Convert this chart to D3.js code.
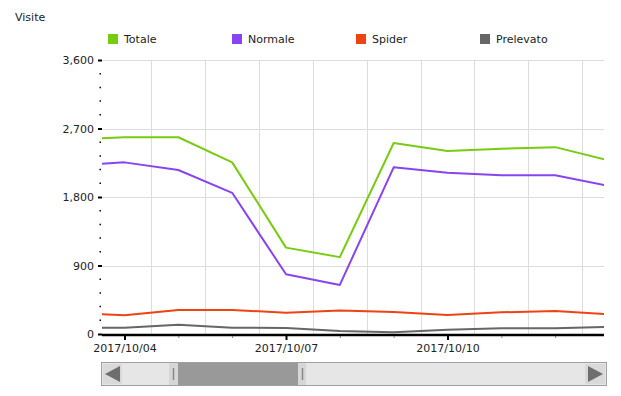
<!DOCTYPE html>
<html><head><meta charset="utf-8">
<script src="https://cdn.jsdelivr.net/npm/d3@7/dist/d3.min.js"></script>
<style>
html,body{margin:0;padding:0;background:#fff;}
svg{display:block;font-family:"DejaVu Sans",Verdana,sans-serif;}
</style></head><body>
<svg id="c" width="621" height="396"></svg>
<script>
// ---- data ----
const dates = ["2017-10-03","2017-10-04","2017-10-05","2017-10-06","2017-10-07","2017-10-08","2017-10-09","2017-10-10","2017-10-11","2017-10-12","2017-10-13"];
const totale    = [2550, 2585, 2585, 2255, 1135, 1010, 2510, 2405, 2435, 2455, 2280];
const normale   = [2210, 2255, 2155, 1855,  785,  645, 2190, 2120, 2085, 2085, 1945];
const spider    = [ 277,  246,  315,  315,  280,  309,  289,  250,  285,  302,  259];
const prelevato = [  83,   83,  122,   83,   79,   39,   22,   56,   75,   75,   95];
const seriesNames = ["Totale","Normale","Spider","Prelevato"];
const seriesColors = ["#77cc11","#8844ee","#ee4411","#666666"];
const yTicks = [0, 900, 1800, 2700, 3600];
const xTickDates = ["2017-10-04","2017-10-05","2017-10-06","2017-10-07","2017-10-08","2017-10-09","2017-10-10","2017-10-11","2017-10-12"];
const xTickLabels = {"2017-10-04":"2017/10/04","2017-10-07":"2017/10/07","2017-10-10":"2017/10/10"};
const yTitle = "Visite";

// ---- layout ----
const L = 102, R = 604, T = 60, B = 334;
const parse = d3.utcParse("%Y-%m-%d");
const svg = d3.select("#c");

const x = d3.scaleUtc().domain([parse("2017-10-04"), parse("2017-10-10")]).range([124.5, 447.5]);
const y = d3.scaleLinear().domain([0, 3600]).range([B, T]);

svg.append("defs").append("clipPath").attr("id","clip")
  .append("rect").attr("x",L).attr("y",T-5).attr("width",R-L).attr("height",B-T+5);

// grid
const g = svg.append("g");
g.selectAll("line.h").data(yTicks.filter(d=>d>0)).join("line")
  .attr("x1",L).attr("x2",R).attr("y1",d=>Math.round(y(d))+0.5).attr("y2",d=>Math.round(y(d))+0.5)
  .attr("stroke","#dddddd").attr("stroke-width",1);
const halfDays = d3.range(0, 10).map(i => new Date(parse("2017-10-03").getTime() + (i+0.5)*86400000));
g.selectAll("line.v").data(halfDays.filter(d=>x(d)>L && x(d)<R)).join("line")
  .attr("x1",d=>Math.round(x(d))+0.5).attr("x2",d=>Math.round(x(d))+0.5).attr("y1",T).attr("y2",B)
  .attr("stroke","#dddddd").attr("stroke-width",1);

// y axis
const yAxis = d3.axisLeft(y).tickValues(yTicks).tickFormat(d3.format(",")).tickSize(4).tickPadding(4);
const ya = svg.append("g").attr("transform",`translate(${L},0)`).call(yAxis);
ya.select(".domain").remove();
ya.selectAll(".tick line").attr("stroke","#000").attr("stroke-width",2);
ya.selectAll(".tick text").attr("font-size",11).attr("fill","#222").attr("font-family","DejaVu Sans, Verdana, sans-serif");
const minor = d3.range(180, 3600, 180).filter(v => v % 900 !== 0);
svg.append("g").selectAll("line").data(minor).join("line")
  .attr("x1",L-2.5).attr("x2",L-1).attr("y1",d=>y(d)).attr("y2",d=>y(d))
  .attr("stroke","#000").attr("stroke-width",1.5);

// lines
const allSeries = [totale, normale, spider, prelevato];
const line = d3.line().x((d,i)=>x(parse(dates[i]))).y(d=>y(d));
svg.append("g").attr("clip-path","url(#clip)").selectAll("path")
  .data(allSeries.map((s,i)=>({s,i})).reverse()).join("path")
  .attr("d",d=>line(d.s)).attr("fill","none")
  .attr("stroke",d=>seriesColors[d.i]).attr("stroke-width",2).attr("stroke-linejoin","round");

// x axis
svg.append("line").attr("x1",L).attr("x2",R).attr("y1",B+1).attr("y2",B+1).attr("stroke","#000").attr("stroke-width",2.5);
const xAxis = d3.axisBottom(x).tickValues(xTickDates.map(parse)).tickSize(0)
  .tickFormat(d => xTickLabels[d3.utcFormat("%Y-%m-%d")(d)] || "");
const xa = svg.append("g").attr("transform",`translate(0,${B+2})`).call(xAxis);
xa.select(".domain").remove();
xa.selectAll(".tick text").attr("font-size",11).attr("fill","#222").attr("dy","0.71em").attr("y",8)
  .attr("font-family","DejaVu Sans, Verdana, sans-serif");
xa.selectAll(".tick").each(function(d){
  const major = !!xTickLabels[d3.utcFormat("%Y-%m-%d")(d)];
  d3.select(this).select("line").remove();
  d3.select(this).append("line").attr("x1",0).attr("x2",0).attr("y1",0).attr("y2",major?4:2)
    .attr("stroke",major?"#000":"#777").attr("stroke-width",major?2:1);
});

// title
svg.append("text").attr("x",15).attr("y",21).attr("font-size",11).attr("fill","#222").text(yTitle);

// legend
const lg = svg.append("g").selectAll("g").data(seriesNames).join("g")
  .attr("transform",(d,i)=>`translate(${108+i*124},34)`);
lg.append("rect").attr("width",10).attr("height",10).attr("fill",(d,i)=>seriesColors[i]);
lg.append("text").attr("x",16).attr("y",9).attr("font-size",11).attr("fill","#222").text(d=>d);

// scrollbar
const sb = svg.append("g");
sb.append("rect").attr("x",101.5).attr("y",362.5).attr("width",505).attr("height",23).attr("fill","#e6e6e6").attr("stroke","#a0a0a0");
sb.append("rect").attr("x",103).attr("y",364).attr("width",19).attr("height",20).attr("fill","#d9d9d9");
sb.append("path").attr("d","M105,374 L120,366 L120,382 Z").attr("fill","#6e6e6e");
sb.append("rect").attr("x",585).attr("y",364).attr("width",20).attr("height",20).attr("fill","#d9d9d9");
sb.append("path").attr("d","M603,374 L588,366 L588,382 Z").attr("fill","#6e6e6e");
sb.append("rect").attr("x",169).attr("y",363).attr("width",137).attr("height",22).attr("fill","#d6d6d6");
sb.append("rect").attr("x",178).attr("y",363).attr("width",120).attr("height",22).attr("fill","#999999");
sb.append("line").attr("x1",173.5).attr("x2",173.5).attr("y1",368).attr("y2",380).attr("stroke","#888").attr("stroke-width",1.5);
sb.append("line").attr("x1",302.5).attr("x2",302.5).attr("y1",368).attr("y2",380).attr("stroke","#888").attr("stroke-width",1.5);
</script>
</body></html>
